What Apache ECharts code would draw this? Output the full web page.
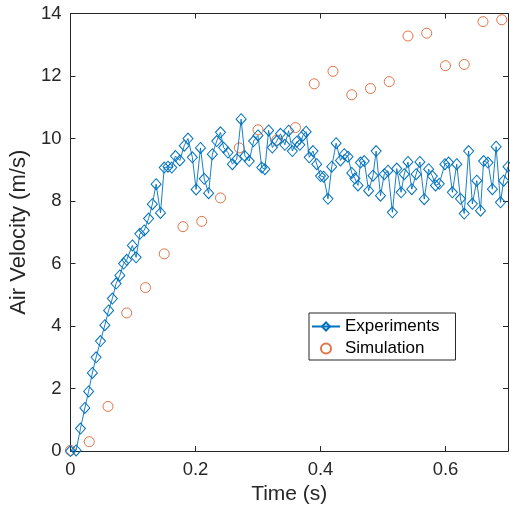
<!DOCTYPE html>
<html><head><meta charset="utf-8">
<script src="https://cdn.jsdelivr.net/npm/echarts@6/dist/echarts.min.js"></script>
<style>html,body{margin:0;padding:0;background:#fff}#c{width:510px;height:510px}</style>
</head><body><div id="c"></div><script>
// Experiments (time in s, velocity in m/s)
const expTime = [0.000,0.009,0.016,0.023,0.029,0.035,0.041,0.048,0.055,0.061,0.067,0.073,0.079,0.085,0.090,0.099,0.105,0.111,0.118,0.125,0.131,0.137,0.144,0.150,0.156,0.162,0.168,0.175,0.182,0.188,0.195,0.201,0.208,0.214,0.221,0.227,0.234,0.240,0.245,0.252,0.259,0.266,0.273,0.279,0.286,0.293,0.300,0.306,0.311,0.317,0.323,0.330,0.336,0.343,0.349,0.355,0.362,0.367,0.372,0.377,0.382,0.388,0.394,0.400,0.405,0.412,0.418,0.425,0.432,0.438,0.444,0.450,0.455,0.460,0.464,0.470,0.477,0.484,0.489,0.496,0.502,0.508,0.515,0.522,0.529,0.534,0.540,0.546,0.553,0.559,0.566,0.573,0.579,0.584,0.590,0.599,0.605,0.611,0.618,0.624,0.630,0.637,0.643,0.650,0.656,0.661,0.668,0.675,0.681,0.688,0.693,0.700];
const expVelocity = [0,0.02,0.72,1.38,1.91,2.5,3.0,3.52,4.03,4.5,4.88,5.36,5.62,6.0,6.12,6.58,6.2,6.95,7.06,7.44,7.9,8.54,7.62,9.07,9.1,9.07,9.44,9.3,9.77,10.0,9.4,8.37,9.7,8.71,8.25,9.5,9.92,10.2,9.71,9.55,9.18,9.34,10.62,9.44,9.28,9.92,10.1,9.07,9.02,10.26,9.71,9.92,10.15,9.8,10.25,9.6,9.9,9.8,10.1,10.22,9.4,9.6,9.18,8.8,8.78,8.07,9.1,9.85,9.3,9.5,9.42,8.9,8.72,8.5,9.23,9.28,8.33,8.81,9.6,8.17,8.86,8.97,7.64,9.04,8.28,8.86,9.25,8.38,8.86,9.25,8.06,9.02,8.8,8.5,8.55,9.18,9.23,8.28,9.18,8.07,7.6,9.6,7.91,8.65,7.69,9.28,9.23,8.38,9.74,7.96,8.65,9.1];
// Simulation
const simTime = [0,0.03,0.06,0.09,0.12,0.15,0.18,0.21,0.24,0.27,0.30,0.33,0.36,0.39,0.42,0.45,0.48,0.51,0.54,0.57,0.60,0.63,0.66,0.69];
const simVelocity = [0.02,0.3,1.43,4.42,5.23,6.31,7.18,7.35,8.1,9.7,10.28,9.95,10.35,11.75,12.15,11.4,11.6,11.82,13.28,13.37,12.33,12.37,13.74,13.8];
// Axis ticks
const xTickValues = [0, 0.2, 0.4, 0.6];
const xMax = 0.7;
const yTickValues = [0, 2, 4, 6, 8, 10, 12, 14];

const FONT = "'Liberation Sans', Arial, Helvetica, sans-serif";
const AX = '#262626';
const BLUE = '#0072BD', ORANGE = '#D95319';

const expData = expTime.map((t, i) => [t, expVelocity[i]]);
const simData = simTime.map((t, i) => [t, simVelocity[i]]);

const xInterval = xTickValues[1] - xTickValues[0];
const yInterval = yTickValues[1] - yTickValues[0];
const yMin = yTickValues[0], yMax = yTickValues[yTickValues.length - 1];

function xAxisCfg(pos, showLabels) {
  return {
    type: 'value', position: pos, min: xTickValues[0], max: xMax, interval: xInterval,
    axisLine: { show: true, onZero: false, lineStyle: { color: AX, width: 1 } },
    axisTick: { show: true, inside: true, length: 5, lineStyle: { color: AX, width: 1 } },
    splitLine: { show: false },
    axisLabel: { show: showLabels, margin: 9, color: AX, fontSize: 18.5, fontFamily: FONT, showMaxLabel: false },
    name: showLabels ? 'Time (s)' : '', nameLocation: 'middle', nameGap: 31,
    nameTextStyle: { color: AX, fontSize: 21, fontFamily: FONT }
  };
}
function yAxisCfg(pos, showLabels) {
  return {
    type: 'value', position: pos, min: yMin, max: yMax, interval: yInterval,
    axisLine: { show: true, onZero: false, lineStyle: { color: AX, width: 1 } },
    axisTick: { show: true, inside: true, length: 5, lineStyle: { color: AX, width: 1 } },
    splitLine: { show: false },
    axisLabel: { show: showLabels, margin: 9, color: AX, fontSize: 18.5, fontFamily: FONT },
    name: showLabels ? 'Air Velocity (m/s)' : '', nameLocation: 'middle', nameGap: 25,
    nameTextStyle: { color: AX, fontSize: 22, fontFamily: FONT }
  };
}

const chart = echarts.init(document.getElementById('c'), null, { renderer: 'canvas' });
chart.setOption({
  animation: false,
  backgroundColor: '#fff',
  grid: { left: 68, right: 2, top: 13.5, bottom: 56.7, containLabel: false },
  xAxis: [xAxisCfg('bottom', true), xAxisCfg('top', false)],
  yAxis: [yAxisCfg('left', true), yAxisCfg('right', false)],
  legend: {
    orient: 'vertical', left: 309, top: 313,
    backgroundColor: '#fff', borderColor: AX, borderWidth: 1,
    padding: [5, 16, 3, 2], itemWidth: 28, itemHeight: 10, itemGap: 5,
    textStyle: { color: '#000', fontSize: 17, fontFamily: FONT },
    data: ['Experiments', 'Simulation']
  },
  series: [
    {
      name: 'Experiments', type: 'line', xAxisIndex: 0, yAxisIndex: 0,
      data: expData, symbol: 'diamond', symbolSize: [10, 11], showAllSymbol: true,
      lineStyle: { color: BLUE, width: 0.9 },
      itemStyle: { color: 'rgba(255,255,255,0)', borderColor: BLUE, borderWidth: 1 },
      clip: true
    },
    {
      name: 'Simulation', type: 'scatter', xAxisIndex: 0, yAxisIndex: 0,
      data: simData, symbol: 'circle', symbolSize: 10,
      itemStyle: { color: 'rgba(255,255,255,0)', borderColor: ORANGE, borderWidth: 1 }
    }
  ]
});
</script></body></html>
